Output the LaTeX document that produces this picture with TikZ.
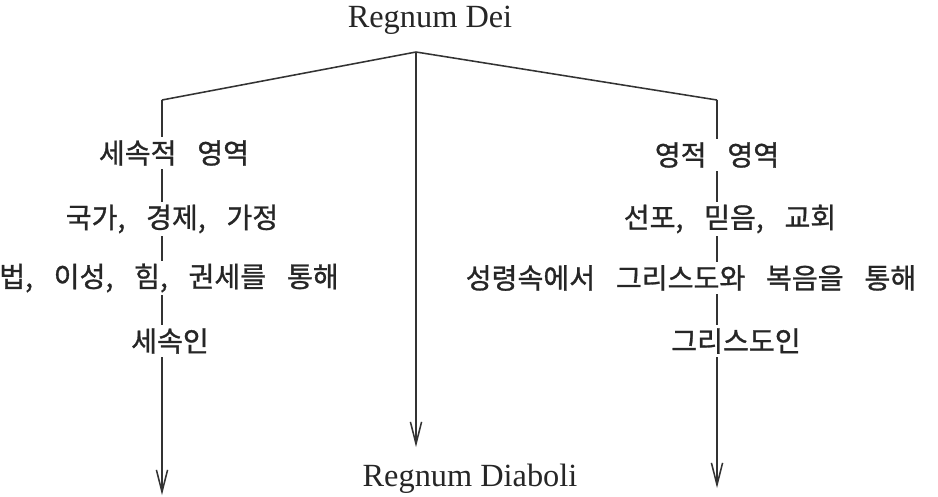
\documentclass[tikz,border=0pt]{standalone}
\usepackage{fontspec}
\setmainfont{Liberation Serif}
\newfontfamily\krfont[WordSpace=3.3,FakeBold=1]{Noto Sans CJK KR}
\usetikzlibrary{arrows.meta}
\begin{document}
\begin{tikzpicture}[x=0.025cm,y=-0.025cm,
  kt/.style={font=\krfont\fontsize{20}{24}\selectfont, fill=white, inner sep=2pt, text=black!85},
  lt/.style={font=\fontsize{23}{27}\selectfont, inner sep=1pt, text=black!85},
  ln/.style={line width=1.1pt, draw=black!80},
  arr/.style={ln,-{Straight Barb[length=0.55cm,width=0.28cm,line width=1.1pt]}}]
\useasboundingbox[fill=white] (0,0) rectangle (938,496);
\coordinate (apex) at (416,52);
\coordinate (lc) at (162,100);
\coordinate (rc) at (717,100);
\coordinate (lend) at (162,495);
\coordinate (cend) at (416,447);
\coordinate (rend) at (717,488);
\draw[ln] (lc) -- (apex) -- (rc);
\draw[arr] (lc) -- (lend);
\draw[arr] (apex) -- (cend);
\draw[arr] (rc) -- (rend);
\node[lt] (dei) at (430,20) {Regnum Dei};
\node[lt] (diab) at (470,479) {Regnum Diaboli};
\node[kt] (l1) at (174,153) {세속적 영역};
\node[kt] (l2) at (172,219) {국가, 경제, 가정};
\node[kt] (l3) at (169,278) {법, 이성, 힘, 권세를 통해};
\node[kt] (l4) at (170,341) {세속인};
\node[kt] (r1) at (717,155) {영적 영역};
\node[kt] (r2) at (730,219) {선포, 믿음, 교회};
\node[kt] (r3) at (691,278) {성령속에서 그리스도와 복음을 통해};
\node[kt] (r4) at (736,341) {그리스도인};
\end{tikzpicture}
\end{document}
